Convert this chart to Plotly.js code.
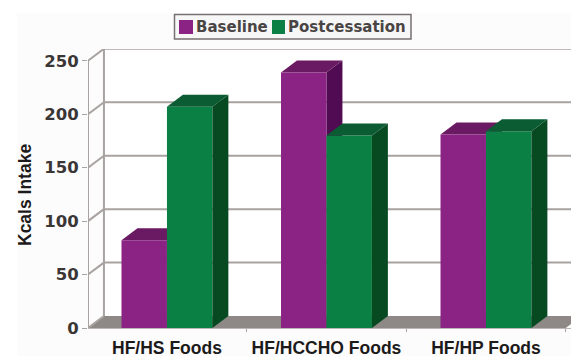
<!DOCTYPE html>
<html>
<head>
<meta charset="utf-8">
<script src="https://cdn.plot.ly/plotly-3.0.1.min.js"></script>
<style>html,body{margin:0;padding:0;background:#fff}#chart{width:571px;height:356px}</style>
</head>
<body>
<div id="chart"></div>
<script>
const categories = ['HF/HS Foods', 'HF/HCCHO Foods', 'HF/HP Foods'];
const baseline = [82, 239, 181];
const postcessation = [207, 180, 184];
const yTicks = [0, 50, 100, 150, 200, 250];
const seriesNames = ['Baseline', 'Postcessation'];
const yTitle = 'Kcals Intake';

const W = 571, H = 356;
const M = {l: 88, r: 0, t: 49, b: 28};
const PW = W - M.l - M.r, PH = H - M.t - M.b;
const xRange = [-0.495, 2.533], yRange = [0, 261];
const depthX = 0.1, depthY = 11.2;
const bargap = 0.43, barW = (1 - bargap) / 2;
const purple = '#8b2384', purpleTop = '#6a1a62', purpleSide = '#510b52';
const green = '#0b8045', greenTop = '#0b5c33', greenSide = '#074a22';
const gridCol = '#a8a2a0';
const pos = categories.map((_, i) => i);

const px = v => (v - M.l) / PW, py = v => 1 - (v - M.t) / PH;
const poly = pts => 'M' + pts.map(p => p[0] + ',' + p[1]).join('L') + 'Z';
const topFace = (x0, x1, v) => [[x0, v], [x1, v], [x1 + depthX, v + depthY], [x0 + depthX, v + depthY]];
const sideFace = (x1, v) => [[x1, 0], [x1, v], [x1 + depthX, v + depthY], [x1 + depthX, depthY]];
const dataShape = (pts, fill) => ({type: 'path', layer: 'below', xref: 'x', yref: 'y', path: poly(pts), fillcolor: fill, line: {width: 0}});
const lineShape = (x0, y0, x1, y1) => ({type: 'line', layer: 'below', xref: 'x', yref: 'y', x0, y0, x1, y1, line: {color: gridCol, width: 2}});

const shapes = [];
// faint scan background
shapes.push({type: 'rect', layer: 'below', xref: 'paper', yref: 'paper', x0: px(17), x1: px(571), y0: py(356), y1: py(13), fillcolor: '#fcfcfc', line: {width: 0}});
// back wall
shapes.push(dataShape([[xRange[0] + depthX, depthY], [xRange[1], depthY], [xRange[1], yRange[1]], [xRange[0] + depthX, yRange[1]]], '#ffffff'));
// floor
shapes.push(dataShape([[xRange[0], 0], [2.5, 0], [2.5 + depthX, depthY], [xRange[0] + depthX, depthY]], '#8e8987'));
// wall grid and side wall
const maxT = yTicks[yTicks.length - 1];
yTicks.forEach(t => {
  if (t > 0) shapes.push(lineShape(xRange[0] + depthX, t + depthY, xRange[1], t + depthY));
  shapes.push(lineShape(xRange[0], t, xRange[0] + depthX, t + depthY));
});
shapes.push(lineShape(xRange[0], 0, xRange[0], maxT));
shapes.push(lineShape(xRange[0] + depthX, depthY, xRange[0] + depthX, maxT + depthY));
// baseline bar depth faces sit below the front of the postcessation bars
pos.forEach((c, i) => {
  shapes.push(dataShape(sideFace(c, baseline[i]), purpleSide));
  shapes.push(dataShape(topFace(c - barW, c, baseline[i]), purpleTop));
});
// legend frame
shapes.push({type: 'rect', xref: 'paper', yref: 'paper', x0: px(174.5), x1: px(411), y0: py(39), y1: py(14.5), fillcolor: '#f7f7f7', line: {color: '#77706f', width: 1.5}});
shapes.push({type: 'rect', xref: 'paper', yref: 'paper', x0: px(179), x1: px(193), y0: py(34), y1: py(20), fillcolor: purple, line: {width: 0}});
shapes.push({type: 'rect', xref: 'paper', yref: 'paper', x0: px(272), x1: px(285), y0: py(34), y1: py(20), fillcolor: green, line: {width: 0}});

const faceTrace = (pts, fill) => ({
  type: 'scatter', mode: 'lines', x: pts.map(p => p[0]).concat(pts[0][0]), y: pts.map(p => p[1]).concat(pts[0][1]),
  fill: 'toself', fillcolor: fill, line: {width: 0, color: fill}, showlegend: false, hoverinfo: 'skip'
});

const traces = [
  {type: 'bar', name: seriesNames[0], x: pos, y: baseline, marker: {color: purple, line: {width: 0}}},
  {type: 'bar', name: seriesNames[1], x: pos, y: postcessation, marker: {color: green, line: {width: 0}}}
];
pos.forEach((c, i) => {
  traces.push(faceTrace(sideFace(c + barW, postcessation[i]), greenSide));
  traces.push(faceTrace(topFace(c, c + barW, postcessation[i]), greenTop));
});

const legendFont = {family: 'DejaVu Sans', size: 15, color: '#4a4544', weight: 700};
const layout = {
  width: W, height: H, margin: M, showlegend: false,
  paper_bgcolor: '#ffffff', plot_bgcolor: 'rgba(0,0,0,0)',
  barmode: 'group', bargap: bargap, bargroupgap: 0,
  xaxis: {
    range: xRange, tickmode: 'array', tickvals: pos, ticktext: categories, ticks: 'outside', ticklen: 4, tickcolor: 'rgba(0,0,0,0)',
    tickfont: {family: 'Liberation Sans', size: 17.5, color: '#1c1a1a', weight: 700},
    showgrid: false, zeroline: false, showline: true, linecolor: '#bdb8b6', linewidth: 1,
    minor: {tickmode: 'array', tickvals: [0.5, 1.5, 2.5], ticks: 'outside', ticklen: 3, tickcolor: gridCol, showgrid: false}
  },
  yaxis: {
    range: yRange, tickmode: 'array', tickvals: yTicks, ticks: 'outside', ticklen: 5, tickcolor: gridCol, tickwidth: 1,
    tickfont: {family: 'DejaVu Sans', size: 16.5, color: '#3a3636', weight: 700},
    showgrid: false, zeroline: false, showline: false
  },
  shapes: shapes,
  annotations: [
    {xref: 'paper', yref: 'paper', x: px(195), y: py(27), xanchor: 'left', yanchor: 'middle', showarrow: false, text: seriesNames[0], font: legendFont, borderpad: 0},
    {xref: 'paper', yref: 'paper', x: px(287), y: py(27), xanchor: 'left', yanchor: 'middle', showarrow: false, text: seriesNames[1], font: legendFont, borderpad: 0},
    {xref: 'paper', yref: 'paper', x: px(25), y: py(195), xanchor: 'center', yanchor: 'middle', showarrow: false, textangle: -90, text: yTitle, font: {family: 'Liberation Sans', size: 17.5, color: '#1c1a1a', weight: 700}, borderpad: 0}
  ]
};
Plotly.newPlot('chart', traces, layout, {displayModeBar: false, staticPlot: true});
</script>
</body>
</html>
